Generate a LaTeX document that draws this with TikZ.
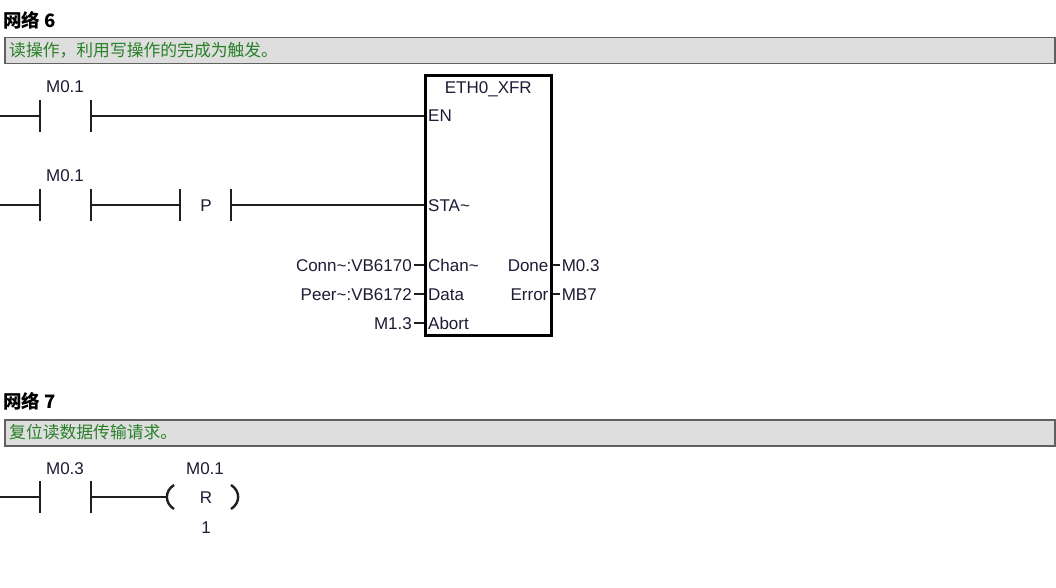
\documentclass[tikz,border=0pt]{standalone}
\usepackage{fontspec}
\setmainfont{Liberation Sans}
\newfontfamily\cjk{Noto Sans CJK SC}
\definecolor{labc}{RGB}{28,28,52}
\definecolor{cmtc}{RGB}{40,128,40}
\definecolor{barfill}{RGB}{222,222,222}
\definecolor{barline}{RGB}{96,96,96}
\begin{document}
\begin{tikzpicture}[x=1pt,y=-1pt,
  lab/.style={font=\fontsize{17}{17}\selectfont, text=labc, inner sep=0pt, text height=12pt, text depth=0pt},
  title/.style={font=\cjk\bfseries\fontsize{18.5}{18.5}\selectfont, text=black, inner sep=0pt, anchor=west},
  cmt/.style={font=\cjk\fontsize{16.8}{16.8}\selectfont, text=cmtc, inner sep=0pt, anchor=west},
  bar/.style={draw=barline, fill=barfill, line width=1.5pt, minimum width=1050pt, minimum height=26pt, inner sep=0pt, anchor=north west},
  wire/.style={line width=2pt, draw=black!88},
  plate/.style={line width=2.4pt, draw=black!88},
  blockbox/.style={draw=black, line width=2.6pt, minimum width=126pt, minimum height=260pt, inner sep=0pt, anchor=north west},
  contact/.pic={
    \draw[plate] (0,-16) -- (0,16) (51,-16) -- (51,16);
    \coordinate (-l) at (0,0);
    \coordinate (-r) at (51,0);
  },
  coil/.pic={
    \draw[plate] (8,-12) .. controls (-1.5,-6) and (-1.5,6) .. (8,12);
    \draw[plate] (65,-12) .. controls (74.5,-6) and (74.5,6) .. (65,12);
    \coordinate (-l) at (1.5,0);
  }
]
\useasboundingbox (0,0) rectangle (1056,588);
\fill[white] (0,0) rectangle (1056,588);

% ---------------- Network 6 ----------------
\node[title] (t6) at (3,20) {网络 6};
\node[bar] (b6) at (4,37) {};
\node[cmt] (c6) at (9,50) {读操作，利用写操作的完成为触发。};

% function block
\node[blockbox] (blk) at (424,74) {};
\node[lab, anchor=north] (bname) at ([yshift=-7pt]blk.north) {ETH0\_XFR};
\coordinate (pEN)   at (blk.west |- 0,116);
\coordinate (pSTA)  at (blk.west |- 0,205);
\coordinate (pChan) at (blk.west |- 0,265);
\coordinate (pData) at (blk.west |- 0,294);
\coordinate (pAbrt) at (blk.west |- 0,323);
\coordinate (pDone) at (blk.east |- 0,265);
\coordinate (pErr)  at (blk.east |- 0,294);
\node[lab, anchor=west] (lEN)   at ([xshift=4pt]pEN)   {EN};
\node[lab, anchor=west] (lSTA)  at ([xshift=4pt]pSTA)  {STA\textasciitilde};
\node[lab, anchor=west] (lChan) at ([xshift=4pt]pChan) {Chan\textasciitilde};
\node[lab, anchor=west] (lData) at ([xshift=4pt]pData) {Data};
\node[lab, anchor=west] (lAbrt) at ([xshift=4pt]pAbrt) {Abort};
\node[lab, anchor=east] (lDone) at ([xshift=-4pt]pDone) {Done};
\node[lab, anchor=east] (lErr)  at ([xshift=-4pt]pErr)  {Error};

% operands
\node[lab, anchor=east] (oChan) at ([xshift=-12pt]pChan) {Conn\textasciitilde:VB6170};
\node[lab, anchor=east] (oData) at ([xshift=-12pt]pData) {Peer\textasciitilde:VB6172};
\node[lab, anchor=east] (oAbrt) at ([xshift=-12pt]pAbrt) {M1.3};
\node[lab, anchor=west] (oDone) at ([xshift=9pt]pDone) {M0.3};
\node[lab, anchor=west] (oErr)  at ([xshift=9pt]pErr)  {MB7};
\draw[wire, line width=1.6pt] (oChan.east) ++(2pt,0) -- (pChan);
\draw[wire, line width=1.6pt] (oData.east) ++(2pt,0) -- (pData);
\draw[wire, line width=1.6pt] (oAbrt.east) ++(2pt,0) -- (pAbrt);
\draw[wire, line width=1.6pt] (pDone) -- ([xshift=-2pt]oDone.west);
\draw[wire, line width=1.6pt] (pErr) -- ([xshift=-2pt]oErr.west);

% rung 1
\coordinate (rail1) at (0,116);
\pic (k1) at (40,116) {contact};
\node[lab] (m1) at (65,87) {M0.1};
\draw[wire] (rail1) -- (k1-l);
\draw[wire] (k1-r) -- (pEN);

% rung 2
\coordinate (rail2) at (0,205);
\pic (k2) at (40,205) {contact};
\node[lab] (m2) at (65,176) {M0.1};
\pic (kp) at (180,205) {contact};
\node[lab] (pp) at (206,205) {P};
\draw[wire] (rail2) -- (k2-l);
\draw[wire] (k2-r) -- (kp-l);
\draw[wire] (kp-r) -- (pSTA);

% ---------------- Network 7 ----------------
\node[title] (t7) at (3,401) {网络 7};
\node[bar] (b7) at (4,419) {};
\node[cmt] (c7) at (9,432) {复位读数据传输请求。};

\coordinate (rail3) at (0,497);
\pic (k3) at (40,497) {contact};
\node[lab] (m3) at (65,468) {M0.3};
\pic (cl) at (166,497) {coil};
\node[lab] (rr) at (206,497) {R};
\node[lab] (m4) at (205,468) {M0.1};
\node[lab] (n1) at (206,527) {1};
\draw[wire] (rail3) -- (k3-l);
\draw[wire] (k3-r) -- (cl-l);
\end{tikzpicture}
\end{document}
